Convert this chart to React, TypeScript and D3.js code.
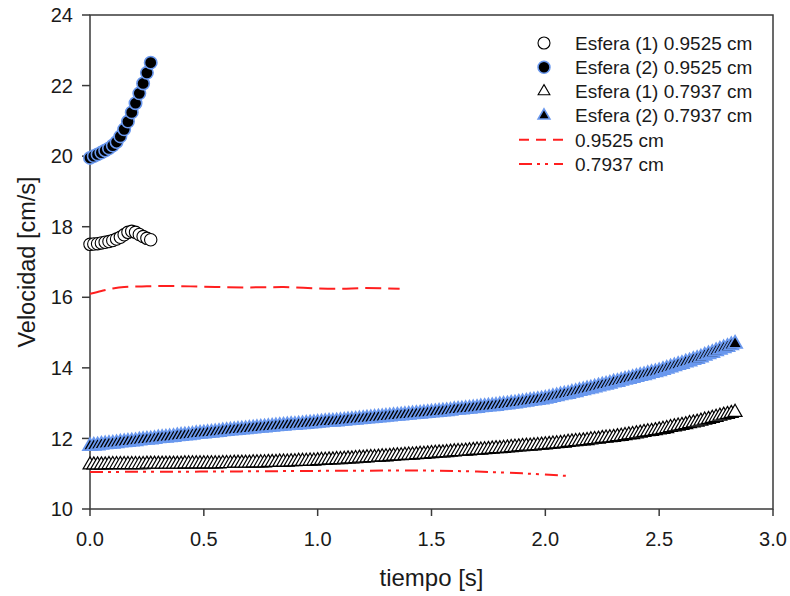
import React from "react";
import * as d3 from "d3";

const W = 790;
const H = 596;
const PLOT = { left: 90, top: 15, right: 773, bottom: 509 };

const X_DOMAIN = [0, 3];
const Y_DOMAIN = [10, 24];
const X_TICKS = [0, 0.5, 1, 1.5, 2, 2.5, 3];
const X_TICK_LABELS = ["0.0", "0.5", "1.0", "1.5", "2.0", "2.5", "3.0"];
const Y_TICKS = [10, 12, 14, 16, 18, 20, 22, 24];
const Y_TICK_LABELS = ["10", "12", "14", "16", "18", "20", "22", "24"];

const FRAME = 1 / 60; // video frame period (s)

// Esfera (1) 0.9525 cm — open circles
const SPHERE1_0952 = [17.5, 17.51, 17.52, 17.54, 17.56, 17.58, 17.61, 17.65, 17.7, 17.77, 17.84, 17.87, 17.84, 17.78, 17.72, 17.67, 17.63];
// Esfera (2) 0.9525 cm — filled circles
const SPHERE2_0952 = [19.95, 20.0, 20.05, 20.1, 20.16, 20.22, 20.3, 20.4, 20.56, 20.76, 20.98, 21.24, 21.5, 21.78, 22.06, 22.36, 22.65];

// Esfera (1) 0.7937 cm — open triangles
const SPHERE1_0794 = [
  11.25, 11.25, 11.25, 11.25, 11.25, 11.26, 11.26, 11.26, 11.26, 11.26,
  11.26, 11.26, 11.26, 11.26, 11.26, 11.27, 11.27, 11.27, 11.27, 11.27,
  11.27, 11.27, 11.27, 11.27, 11.27, 11.28, 11.28, 11.28, 11.28, 11.28,
  11.28, 11.28, 11.28, 11.28, 11.28, 11.29, 11.29, 11.29, 11.3, 11.3,
  11.3, 11.3, 11.3, 11.31, 11.31, 11.31, 11.31, 11.32, 11.32, 11.32,
  11.33, 11.33, 11.33, 11.34, 11.34, 11.35, 11.35, 11.35, 11.36, 11.36,
  11.37, 11.38, 11.38, 11.39, 11.39, 11.4, 11.4, 11.41, 11.42, 11.42,
  11.43, 11.44, 11.44, 11.45, 11.46, 11.46, 11.47, 11.48, 11.48, 11.49,
  11.5, 11.51, 11.51, 11.52, 11.53, 11.53, 11.54, 11.55, 11.55, 11.56,
  11.57, 11.58, 11.59, 11.59, 11.6, 11.61, 11.62, 11.63, 11.63, 11.64,
  11.65, 11.66, 11.67, 11.67, 11.68, 11.69, 11.7, 11.71, 11.71, 11.72,
  11.73, 11.74, 11.75, 11.76, 11.77, 11.78, 11.78, 11.79, 11.8, 11.81,
  11.82, 11.83, 11.84, 11.85, 11.86, 11.87, 11.89, 11.9, 11.91, 11.92,
  11.93, 11.94, 11.96, 11.97, 11.98, 12.0, 12.01, 12.02, 12.03, 12.05,
  12.06, 12.08, 12.1, 12.11, 12.13, 12.15, 12.17, 12.19, 12.2, 12.22,
  12.24, 12.26, 12.28, 12.31, 12.33, 12.35, 12.37, 12.39, 12.42, 12.44,
  12.46, 12.49, 12.52, 12.54, 12.57, 12.6, 12.63, 12.66, 12.68, 12.71,
  12.74,
];

// Esfera (2) 0.7937 cm — filled triangles
const SPHERE2_0794 = [
  11.78, 11.79, 11.8, 11.82, 11.83, 11.84, 11.85, 11.86, 11.88, 11.89,
  11.9, 11.91, 11.92, 11.94, 11.95, 11.96, 11.97, 11.98, 12.0, 12.01,
  12.02, 12.03, 12.04, 12.06, 12.07, 12.08, 12.09, 12.1, 12.12, 12.13,
  12.14, 12.15, 12.16, 12.17, 12.18, 12.2, 12.21, 12.22, 12.23, 12.24,
  12.25, 12.26, 12.27, 12.28, 12.29, 12.3, 12.31, 12.32, 12.33, 12.34,
  12.35, 12.36, 12.37, 12.38, 12.38, 12.39, 12.4, 12.41, 12.42, 12.43,
  12.44, 12.45, 12.46, 12.47, 12.47, 12.48, 12.49, 12.5, 12.51, 12.52,
  12.53, 12.54, 12.55, 12.56, 12.57, 12.58, 12.59, 12.6, 12.61, 12.62,
  12.63, 12.64, 12.65, 12.66, 12.67, 12.68, 12.69, 12.7, 12.71, 12.72,
  12.73, 12.74, 12.75, 12.76, 12.77, 12.78, 12.8, 12.81, 12.82, 12.83,
  12.84, 12.85, 12.86, 12.88, 12.89, 12.9, 12.91, 12.92, 12.94, 12.95,
  12.96, 12.98, 12.99, 13.01, 13.02, 13.04, 13.06, 13.07, 13.09, 13.1,
  13.12, 13.14, 13.17, 13.19, 13.22, 13.24, 13.26, 13.29, 13.31, 13.34,
  13.36, 13.39, 13.41, 13.44, 13.47, 13.5, 13.52, 13.55, 13.58, 13.6,
  13.63, 13.66, 13.68, 13.71, 13.74, 13.77, 13.79, 13.82, 13.85, 13.87,
  13.9, 13.94, 13.97, 14.01, 14.04, 14.08, 14.11, 14.15, 14.18, 14.22,
  14.25, 14.29, 14.34, 14.38, 14.42, 14.47, 14.51, 14.55, 14.59, 14.64,
  14.68,
];

// Model curves
const MODEL_0952_T = [0, 0.05, 0.1, 0.15, 0.25, 0.35, 0.5, 0.7, 0.85, 1.0, 1.1, 1.2, 1.36];
const MODEL_0952_V = [16.1, 16.18, 16.25, 16.29, 16.31, 16.32, 16.3, 16.28, 16.29, 16.25, 16.24, 16.26, 16.24];
const MODEL_0794_T = [0, 0.5, 1.0, 1.4, 1.7, 1.9, 2.09];
const MODEL_0794_V = [11.05, 11.06, 11.08, 11.09, 11.06, 11.01, 10.94];

const LEGEND_LABELS = [
  "Esfera (1) 0.9525 cm",
  "Esfera (2) 0.9525 cm",
  "Esfera (1) 0.7937 cm",
  "Esfera (2) 0.7937 cm",
  "0.9525 cm",
  "0.7937 cm",
];

const BLUE = "#6a98ee";
const RED = "#ff1f1f";
const FRAME_COLOR = "#3a3a3a";
const TEXT_COLOR = "#1a1a1a";
const FONT = "'Liberation Sans', Arial, sans-serif";
const NARROW = "'Liberation Sans Narrow', 'Arial Narrow', 'Liberation Sans', sans-serif";
const DASH = "16 7";
const DASH_DOT = "13 5 3 5 3 6";

export default function App() {
  const x = d3.scaleLinear().domain(X_DOMAIN).range([PLOT.left, PLOT.right]);
  const y = d3.scaleLinear().domain(Y_DOMAIN).range([PLOT.bottom, PLOT.top]);

  const toPts = (vals: number[]) => vals.map((v, i) => ({ t: i * FRAME, v }));
  const s1a = toPts(SPHERE1_0952);
  const s2a = toPts(SPHERE2_0952);
  const s1b = toPts(SPHERE1_0794);
  const s2b = toPts(SPHERE2_0794);

  const line = d3
    .line<[number, number]>()
    .x((d) => x(d[0]))
    .y((d) => y(d[1]))
    .curve(d3.curveMonotoneX);
  const m1 = MODEL_0952_T.map((t, i) => [t, MODEL_0952_V[i]] as [number, number]);
  const m2 = MODEL_0794_T.map((t, i) => [t, MODEL_0794_V[i]] as [number, number]);

  const tri = d3.symbol(d3.symbolTriangle, 84)() as string;
  const triLegend = d3.symbol(d3.symbolTriangle, 60)() as string;

  const legendX = 544;
  const legendY0 = 43;
  const legendDy = 24.2;

  return (
    <svg width={W} height={H} style={{ position: "absolute", left: 0, top: 0, background: "#fff" }}>
      <rect x={0} y={0} width={W} height={H} fill="#fff" />
      {/* frame */}
      <rect
        x={PLOT.left}
        y={PLOT.top}
        width={PLOT.right - PLOT.left}
        height={PLOT.bottom - PLOT.top}
        fill="none"
        stroke={FRAME_COLOR}
        strokeWidth={1.5}
      />
      {/* y ticks */}
      {Y_TICKS.map((v, i) => (
        <g key={"yt" + i}>
          <line x1={PLOT.left - 8} x2={PLOT.left} y1={y(v)} y2={y(v)} stroke={FRAME_COLOR} strokeWidth={1.5} />
          <text x={PLOT.left - 17} y={y(v)} dy="0.36em" textAnchor="end" fontFamily={FONT} fontSize={20} fill={TEXT_COLOR}>
            {Y_TICK_LABELS[i]}
          </text>
        </g>
      ))}
      {/* x ticks */}
      {X_TICKS.map((v, i) => (
        <g key={"xt" + i}>
          <line x1={x(v)} x2={x(v)} y1={PLOT.bottom} y2={PLOT.bottom + 7} stroke={FRAME_COLOR} strokeWidth={1.5} />
          <text x={x(v)} y={PLOT.bottom + 37} textAnchor="middle" fontFamily={NARROW} fontSize={20} fill={TEXT_COLOR}>
            {X_TICK_LABELS[i]}
          </text>
        </g>
      ))}
      <text x={(PLOT.left + PLOT.right) / 2} y={586} textAnchor="middle" fontFamily={FONT} fontSize={24} fill={TEXT_COLOR}>
        tiempo [s]
      </text>
      <text
        transform={`translate(35, ${(PLOT.top + PLOT.bottom) / 2}) rotate(-90)`}
        textAnchor="middle"
        fontFamily={FONT}
        fontSize={23.5}
        fill={TEXT_COLOR}
      >
        Velocidad [cm/s]
      </text>

      {/* model lines */}
      <path d={line(m1) as string} fill="none" stroke={RED} strokeWidth={2} strokeDasharray={DASH} />
      <path d={line(m2) as string} fill="none" stroke={RED} strokeWidth={2} strokeDasharray={DASH_DOT} />

      {/* open triangles */}
      {s1b.map((d, i) => (
        <path key={"ot" + i} d={tri} transform={`translate(${x(d.t)},${y(d.v)})`} fill="#fff" stroke="#000" strokeWidth={1.2} />
      ))}
      {/* filled triangles */}
      {s2b.map((d, i) => (
        <path key={"ft" + i} d={tri} transform={`translate(${x(d.t)},${y(d.v)})`} fill="#000" stroke={BLUE} strokeWidth={1.8} />
      ))}
      {/* open circles */}
      {s1a.map((d, i) => (
        <circle key={"oc" + i} cx={x(d.t)} cy={y(d.v)} r={6.2} fill="#fff" stroke="#000" strokeWidth={1.1} />
      ))}
      {/* filled circles */}
      {s2a.map((d, i) => (
        <circle key={"fc" + i} cx={x(d.t)} cy={y(d.v)} r={6.2} fill="#000" stroke={BLUE} strokeWidth={1.6} />
      ))}

      {/* legend */}
      <g>
        <circle cx={legendX} cy={legendY0} r={6} fill="#fff" stroke="#000" strokeWidth={1.1} />
        <circle cx={legendX} cy={legendY0 + legendDy} r={6} fill="#000" stroke={BLUE} strokeWidth={1.5} />
        <path d={triLegend} transform={`translate(${legendX},${legendY0 + 2 * legendDy})`} fill="#fff" stroke="#000" strokeWidth={1.1} />
        <path d={triLegend} transform={`translate(${legendX},${legendY0 + 3 * legendDy})`} fill="#000" stroke={BLUE} strokeWidth={1.6} />
        <line x1={519} x2={563} y1={legendY0 + 4 * legendDy} y2={legendY0 + 4 * legendDy} stroke={RED} strokeWidth={2} strokeDasharray="10 7" />
        <line x1={519} x2={563} y1={legendY0 + 5 * legendDy} y2={legendY0 + 5 * legendDy} stroke={RED} strokeWidth={2} strokeDasharray={DASH_DOT} />
        {LEGEND_LABELS.map((s, i) => (
          <text key={"lg" + i} x={575} y={legendY0 + i * legendDy} dy="0.36em" fontFamily={FONT} fontSize={19} fill={TEXT_COLOR}>
            {s}
          </text>
        ))}
      </g>
    </svg>
  );
}
